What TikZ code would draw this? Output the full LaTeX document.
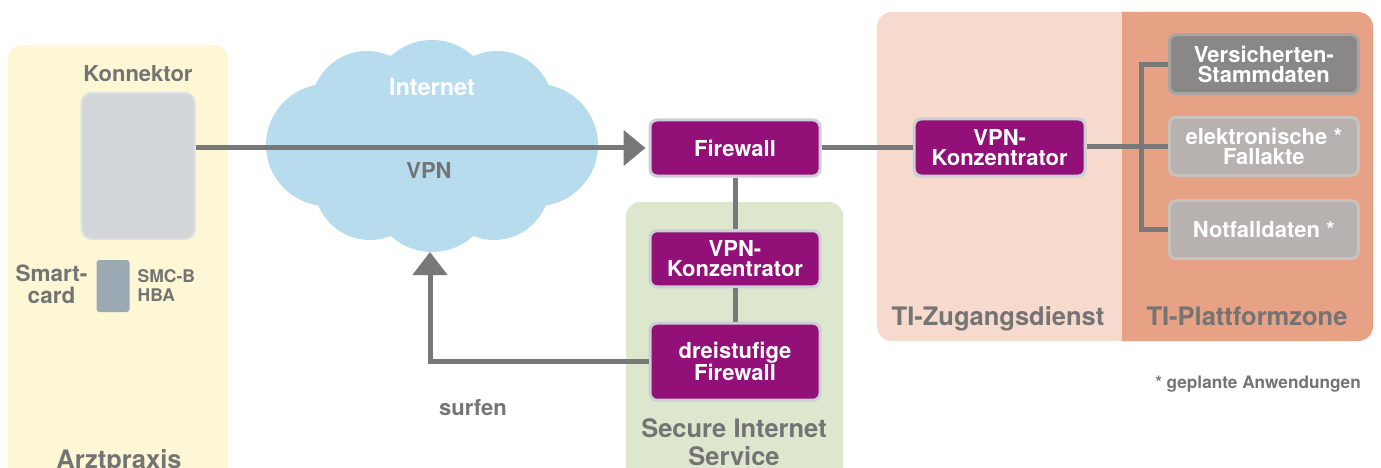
\documentclass[tikz,border=0pt]{standalone}
\usepackage{fontspec}
\setmainfont{TeX Gyre Heros}
\usetikzlibrary{arrows.meta}
\definecolor{yellowbg}{HTML}{FEF7D5}
\definecolor{greenbg}{HTML}{DDE7CE}
\definecolor{tiL}{HTML}{F6DACD}
\definecolor{tiR}{HTML}{E7A185}
\definecolor{cloudc}{HTML}{B7DCED}
\definecolor{vpurple}{HTML}{941079}
\definecolor{boxborder}{HTML}{CBCED4}
\definecolor{linegray}{HTML}{787878}
\definecolor{labelgray}{HTML}{747474}
\definecolor{konfill}{HTML}{D2D6DA}
\definecolor{konborder}{HTML}{DDE0E3}
\definecolor{cardfill}{HTML}{9BAAB2}
\definecolor{darkapp}{HTML}{8A8886}
\definecolor{darkappb}{HTML}{A8A5A3}
\definecolor{lightapp}{HTML}{B7B2B0}
\definecolor{lightappb}{HTML}{C8C1BD}
\begin{document}
\begin{tikzpicture}[x=1pt,y=-1pt,
  box/.style={draw=boxborder, line width=3pt, rounded corners=7pt, text=white,
    font=\bfseries\fontsize{22}{20.5}\selectfont, align=center, inner sep=0pt},
  purplebox/.style={box, fill=vpurple, minimum width=170pt},
  darkbox/.style={box, fill=darkapp, draw=darkappb, minimum width=189pt},
  lightbox/.style={box, fill=lightapp, draw=lightappb, minimum width=189pt},
  conn/.style={draw=linegray, line width=5pt},
  lbl/.style={text=labelgray, font=\bfseries\fontsize{22}{22}\selectfont, inner sep=0pt},
  smalllbl/.style={text=labelgray, font=\bfseries\fontsize{17.5}{18}\selectfont, inner sep=0pt},
  biglbl/.style={text=labelgray, font=\bfseries\fontsize{25.5}{28}\selectfont, inner sep=0pt},
  notelbl/.style={text=labelgray, font=\bfseries\fontsize{17.2}{18}\selectfont, inner sep=0pt}
]
\useasboundingbox (0,0) rectangle (1381,468);
\begin{scope}
  \clip (0,0) rectangle (1381,468);
  % Arztpraxis
  \fill[yellowbg, rounded corners=14pt] (8,45) rectangle (228,500);
  % Secure Internet Service
  \fill[greenbg, rounded corners=14pt] (626,202) rectangle (843,500);
  % TI
  \fill[tiL, rounded corners=15pt] (877,12) rectangle (1373,341);
  \begin{scope}
    \clip (1122,0) rectangle (1381,468);
    \fill[tiR, rounded corners=15pt] (877,12) rectangle (1373,341);
  \end{scope}
  % cloud
  \fill[cloudc] (327,145) circle[radius=61];
  \fill[cloudc] (367,107) circle[radius=56];
  \fill[cloudc] (432,101) circle[radius=61];
  \fill[cloudc] (497,107) circle[radius=56];
  \fill[cloudc] (537,145) circle[radius=61];
  \fill[cloudc] (370,184) circle[radius=56];
  \fill[cloudc] (432,191) circle[radius=61];
  \fill[cloudc] (494,184) circle[radius=56];
  \fill[cloudc] (330,110) rectangle (535,200);
\end{scope}

% labels
\node[lbl, anchor=base] (konlbl) at (138,82) {Konnektor};
\node[lbl, anchor=base, font=\bfseries\fontsize{22.5}{22}\selectfont] (smart1) at (51.5,281) {Smart-};
\node[lbl, anchor=base, font=\bfseries\fontsize{22.5}{22}\selectfont] (smart2) at (51.5,303) {card};
\node[smalllbl, anchor=base west] (smc1) at (137.5,282) {SMC-B};
\node[smalllbl, anchor=base west] (smc2) at (137.5,301) {HBA};
\node[biglbl, anchor=base] (arzt) at (119,468.5) {Arztpraxis};
\node[lbl, anchor=base, text=white, font=\bfseries\fontsize{23.5}{24}\selectfont] (inet) at (432,96) {Internet};
\node[lbl, anchor=base] (vpnlbl) at (429,178) {VPN};
\node[lbl, anchor=base] (surf) at (473,415) {surfen};
\node[biglbl, anchor=base] (sis1) at (734,437) {Secure Internet};
\node[biglbl, anchor=base] (sis2) at (734,465) {Service};
\node[biglbl, anchor=base] (tiz) at (998,325) {TI-Zugangsdienst};
\node[biglbl, anchor=base] (tip) at (1247,325) {TI-Plattformzone};
\node[notelbl, anchor=base east] (note) at (1361,388) {* geplante Anwendungen};

% nodes
\node[draw=konborder, fill=konfill, line width=2pt, rounded corners=10pt,
  minimum width=113pt, minimum height=146pt, inner sep=0pt] (kon) at (138.2,165.9) {};
\node[fill=cardfill, rounded corners=3pt, minimum width=33pt, minimum height=52pt, inner sep=0pt] (card) at (113,286) {};

\node[purplebox, minimum height=56pt] (fw) at (735,148) {Firewall};
\node[purplebox, minimum height=56pt] (sisvpn) at (735,258.8) {VPN-\\Konzentrator};
\node[purplebox, minimum height=77pt] (dfw) at (735,361.7) {dreistufige\\Firewall};
\node[purplebox, minimum width=171pt, minimum height=57pt] (tivpn) at (999.7,147.5) {VPN-\\Konzentrator};
\node[darkbox, minimum height=59pt] (vsd) at (1263.8,64.2) {Versicherten-\\Stammdaten};
\node[lightbox, minimum height=58pt] (efa) at (1263.8,146.3) {elektronische *\\Fallakte};
\node[lightbox, minimum height=58pt] (nfd) at (1263.8,229.7) {Notfalldaten *};

\coordinate (cloudbot) at (430,252);
\coordinate (br) at (1141.7,0);

% connectors
\draw[conn, -{Triangle[length=22pt,width=35pt]}, shorten >=3pt] (fw.west -| kon.east) -- (fw.west);
\draw[conn, -{Triangle[length=23pt,width=34pt]}] (dfw.west) -| (cloudbot);
\draw[conn] (fw.south) -- (sisvpn.north);
\draw[conn] (sisvpn.south) -- (dfw.north);
\draw[conn] (fw.east) -- (fw.east -| tivpn.west);
\draw[conn] (efa.west -| tivpn.east) -- (efa.west);
\draw[conn] (vsd.west) -- (vsd.west -| br) -- (nfd.west -| br) -- (nfd.west);
\end{tikzpicture}
\end{document}
